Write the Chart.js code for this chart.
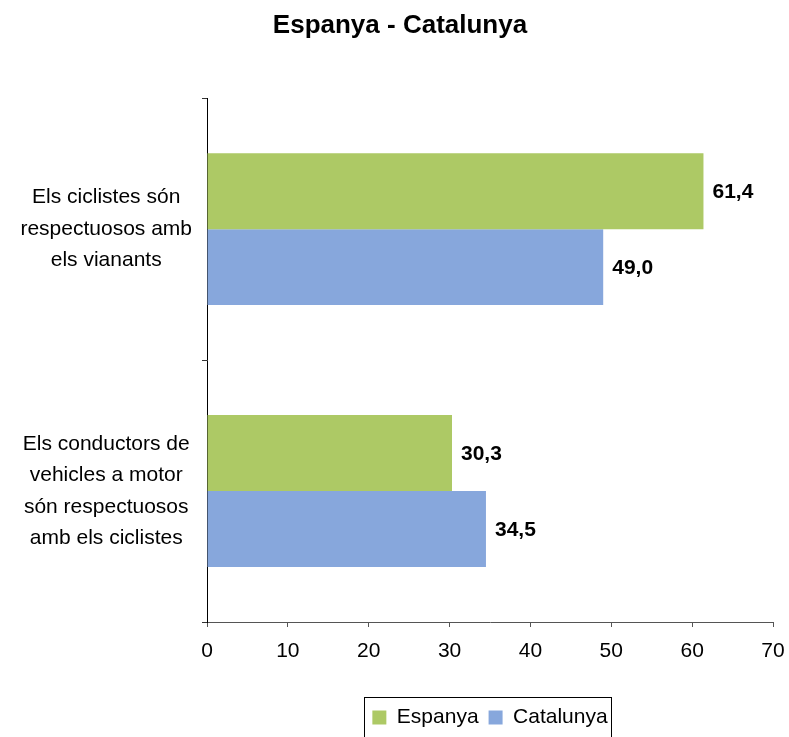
<!DOCTYPE html>
<html>
<head>
<meta charset="utf-8">
<title>Espanya - Catalunya</title>
<script src="https://cdn.jsdelivr.net/npm/chart.js@4/dist/chart.umd.min.js"></script>
<style>
  html, body { margin: 0; padding: 0; background: #fff; }
  #wrap { width: 789px; height: 737px; position: relative; }
</style>
</head>
<body>
<div id="wrap"><canvas id="chart"></canvas></div>
<script>
// ── Data ─────────────────────────────────────
const categories = [
  ['Els ciclistes són', 'respectuosos amb', 'els vianants'],
  ['Els conductors de', 'vehicles a motor', 'són respectuosos', 'amb els ciclistes'],
];
const espanya   = [61.4, 30.3];
const catalunya = [49.0, 34.5];
const xTicks    = [0, 10, 20, 30, 40, 50, 60, 70];

const FONT = "'Liberation Sans', Arial, sans-serif";
const GREEN = '#adc965';
const BLUE  = '#87a7dc';

const fmt = v => v.toFixed(1).replace('.', ',');

// value labels at the end of each bar
const barValues = {
  id: 'barValues',
  afterDatasetsDraw(chart) {
    const ctx = chart.ctx;
    ctx.save();
    ctx.font = `bold 21px ${FONT}`;
    ctx.fillStyle = '#000';
    ctx.textAlign = 'left';
    ctx.textBaseline = 'middle';
    chart.data.datasets.forEach((ds, i) => {
      chart.getDatasetMeta(i).data.forEach((bar, j) => {
        ctx.fillText(fmt(ds.data[j]), bar.x + 9, bar.y + 1);
      });
    });
    ctx.restore();
  }
};

// legend centred under the plot area, with a frame round it
const legendFrame = {
  id: 'legendFrame',
  afterLayout(chart) {
    const lg = chart.legend;
    if (!lg) return;
    lg.left = chart.chartArea.left;
    lg.right = chart.chartArea.right;
    lg.width = lg.right - lg.left;
  },
  afterDraw(chart) {
    const lg = chart.legend;
    if (!lg || !lg.legendHitBoxes.length) return;
    const boxes = lg.legendHitBoxes;
    const first = boxes[0], last = boxes[boxes.length - 1];
    const ctx = chart.ctx;
    ctx.save();
    ctx.strokeStyle = '#000';
    ctx.lineWidth = 1;
    ctx.strokeRect(Math.round(first.left - 8) + 0.5, Math.round(lg.top) + 0.5,
      Math.round(last.left + last.width - first.left + 12), chart.height);
    ctx.restore();
  }
};

new Chart(document.getElementById('chart'), {
  type: 'bar',
  data: {
    labels: categories,
    datasets: [
      { label: 'Espanya',   data: espanya,   backgroundColor: GREEN },
      { label: 'Catalunya', data: catalunya, backgroundColor: BLUE },
    ]
  },
  options: {
    indexAxis: 'y',
    responsive: true,
    maintainAspectRatio: false,
    animation: false,
    categoryPercentage: 0.58,
    barPercentage: 1.0,
    layout: { padding: { left: 11, right: 0, top: 0, bottom: -1 } },
    plugins: {
      title: {
        display: true,
        text: 'Espanya - Catalunya',
        color: '#000',
        font: { family: FONT, size: 26, weight: 'bold', lineHeight: 1.2 },
        padding: { top: 10, bottom: 57 }
      },
      legend: {
        position: 'bottom',
        labels: {
          color: '#000',
          boxWidth: 14,
          boxHeight: 14,
          padding: 10,
          font: { family: FONT, size: 21 }
        }
      },
      tooltip: { enabled: false }
    },
    scales: {
      x: {
        min: 0,
        max: 70,
        afterBuildTicks: s => { s.ticks = xTicks.map(v => ({ value: v })); },
        ticks: { color: '#000', padding: 12, font: { family: FONT, size: 21 } },
        grid: { drawOnChartArea: false, tickLength: 5, color: '#555' },
        border: { color: '#555', width: 1 },
        afterFit: s => { s.height = 75; s.paddingRight = 16; }
      },
      y: {
        ticks: {
          color: '#000',
          crossAlign: 'center',
          padding: 10,
          font: { family: FONT, size: 21, lineHeight: 1.5 }
        },
        grid: { drawOnChartArea: false, offset: true, tickLength: 5, color: '#333' },
        border: { color: '#000', width: 1 },
        afterFit: s => { s.width = 196; }
      }
    }
  },
  plugins: [barValues, legendFrame]
});
</script>
</body>
</html>
